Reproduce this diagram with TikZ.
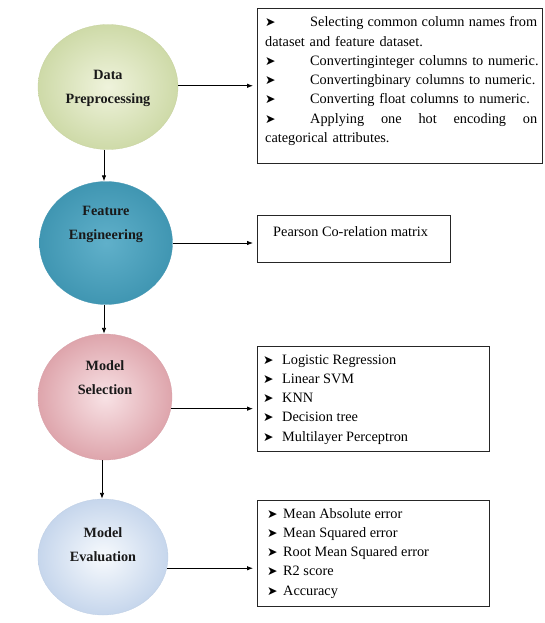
\documentclass[tikz,border=0pt]{standalone}
\usepackage{fontspec}
\setmainfont{Liberation Serif}
\newfontfamily\symfont{DejaVu Sans}
\usetikzlibrary{shapes.geometric,arrows.meta}
\definecolor{gIn}{RGB}{239,243,220}\definecolor{gOut}{RGB}{206,218,168}\definecolor{gLn}{RGB}{200,210,160}
\definecolor{bIn}{RGB}{96,176,202}\definecolor{bOut}{RGB}{64,150,178}\definecolor{bLn}{RGB}{70,150,178}
\definecolor{pIn}{RGB}{248,226,229}\definecolor{pOut}{RGB}{222,165,172}\definecolor{pLn}{RGB}{215,160,168}
\definecolor{lIn}{RGB}{247,250,253}\definecolor{lOut}{RGB}{198,214,236}\definecolor{lLn}{RGB}{190,206,228}
\newcommand\bulA{\makebox[45pt][l]{\symfont\fontsize{12.5}{12}\selectfont ➤}}
\newcommand\bulB{\makebox[19pt][l]{\symfont\fontsize{12.5}{12}\selectfont ➤}}
\newcommand\bulC{\makebox[16pt][l]{\symfont\fontsize{12.5}{12}\selectfont ➤}}
\newcommand\fullline[1]{\leavevmode\hbox to 272pt{#1}}
\tikzset{
  stage/.style={ellipse, inner sep=0pt, draw=#1Ln, line width=0.3pt, shade, inner color=#1In, outer color=#1Out},
  stagetext/.style={align=center, font=\bfseries\fontsize{14.2}{24}\selectfont, text=black!90},
  infobox/.style={draw=black!85, line width=0.9pt, rectangle, inner sep=0pt, anchor=north west},
  infotext/.style={anchor=north west, inner sep=0pt, align=left, font=\fontsize{14.3}{19.25}\selectfont},
  arr/.style={-{Latex[length=6pt,width=4.5pt]}, line width=0.8pt, black},
}
\begin{document}
\begin{tikzpicture}[x=1pt,y=-1pt]
\useasboundingbox (0,0) rectangle (544,623);
% circles
\node[stage=g, minimum width=140pt, minimum height=125pt] (c1) at (108,87) {};
\node[stage=b, minimum width=133pt, minimum height=123pt] (c2) at (106,243) {};
\node[stage=p, minimum width=134pt, minimum height=126pt] (c3) at (105,397) {};
\node[stage=l, minimum width=130pt, minimum height=116pt] (c4) at (103,557) {};
\node[stagetext] (t1) at (108,88) {Data\\Preprocessing};
\node[stagetext] (t2) at (106,224) {Feature\\Engineering};
\node[stagetext] (t3) at (105,378) {Model\\Selection};
\node[stagetext] (t4) at (103,545) {Model\\Evaluation};
% boxes
\node[infobox, minimum width=285pt, minimum height=155pt] (b1) at (257,8) {};
\node[infobox, minimum width=193pt, minimum height=47pt] (b2) at (257,215) {};
\node[infobox, minimum width=232pt, minimum height=105pt] (b3) at (257,346) {};
\node[infobox, minimum width=232pt, minimum height=106pt] (b4) at (257,500) {};
\node[infotext, text width=272pt] (x1) at (265,16.5) {%
\fullline{\bulA Selecting\hfill common\hfill column\hfill names\hfill from}\\
\mbox{dataset and feature dataset.}\\
\mbox{\bulA Convertinginteger columns to numeric.}\\
\mbox{\bulA Convertingbinary columns to numeric.}\\
\mbox{\bulA Converting float columns to numeric.}\\
\fullline{\bulA Applying\hfill one\hfill hot\hfill encoding\hfill on}\\
\mbox{categorical attributes.}};
\node[infotext] (x2) at (273,226) {Pearson Co-relation matrix};
\node[infotext] (x3) at (263,354.5) {%
\bulB Logistic Regression\\
\bulB Linear SVM\\
\bulB KNN\\
\bulB Decision tree\\
\bulB Multilayer Perceptron};
\node[infotext] (x4) at (267,508) {%
\bulC Mean Absolute error\\
\bulC Mean Squared error\\
\bulC Root Mean Squared error\\
\bulC R2 score\\
\bulC Accuracy};
% connectors
\draw[arr] (c1.1) -- ([xshift=-4pt]c1.1 -| b1.west) ;
\draw[arr] (c2.east) -- ([xshift=-4pt]c2.east -| b2.west);
\draw[arr] (c3.-10) -- ([xshift=-4pt]c3.-10 -| b3.west);
\draw[arr] (c4.-10) -- ([xshift=-4pt]c4.-10 -| b4.west);
\draw[arr] ([xshift=-4pt]c1.south) -- ([xshift=-4pt]c1.south |- c2.north);
\draw[arr] ([xshift=-2pt]c2.south) -- ([xshift=-2pt]c2.south |- c3.north);
\draw[arr] ([xshift=-3pt]c3.south) -- ([xshift=-3pt]c3.south |- c4.north);
\end{tikzpicture}
\end{document}
